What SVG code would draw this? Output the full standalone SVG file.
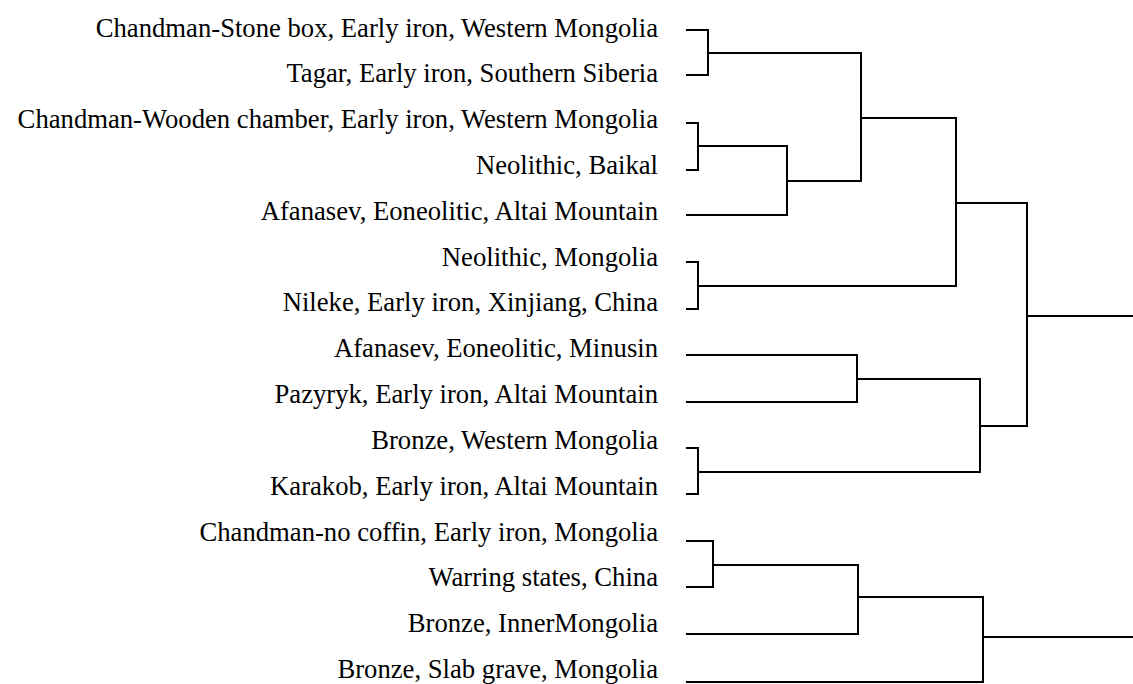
<svg xmlns="http://www.w3.org/2000/svg" width="1133" height="684" viewBox="0 0 1133 684">
<style>
.lbl{font-family:"Liberation Serif","Times New Roman",serif;font-size:26.67px;fill:#000;text-anchor:end}
.br{fill:none;stroke:#000;stroke-width:2;stroke-linecap:square;stroke-linejoin:miter}
</style>
<rect width="1133" height="684" fill="#fff"/>
<g id="leaf1"><text class="lbl" x="658" y="36.5">Chandman-Stone box, Early iron, Western Mongolia</text></g>
<g id="leaf2"><text class="lbl" x="658" y="82.3">Tagar, Early iron, Southern Siberia</text></g>
<g id="leaf3"><text class="lbl" x="658" y="128.1">Chandman-Wooden chamber, Early iron, Western Mongolia</text></g>
<g id="leaf4"><text class="lbl" x="658" y="173.9">Neolithic, Baikal</text></g>
<g id="leaf5"><text class="lbl" x="658" y="219.8">Afanasev, Eoneolitic, Altai Mountain</text></g>
<g id="leaf6"><text class="lbl" x="658" y="265.6">Neolithic, Mongolia</text></g>
<g id="leaf7"><text class="lbl" x="658" y="311.4">Nileke, Early iron, Xinjiang, China</text></g>
<g id="leaf8"><text class="lbl" x="658" y="357.2">Afanasev, Eoneolitic, Minusin</text></g>
<g id="leaf9"><text class="lbl" x="658" y="403.1">Pazyryk, Early iron, Altai Mountain</text></g>
<g id="leaf10"><text class="lbl" x="658" y="448.9">Bronze, Western Mongolia</text></g>
<g id="leaf11"><text class="lbl" x="658" y="494.7">Karakob, Early iron, Altai Mountain</text></g>
<g id="leaf12"><text class="lbl" x="658" y="540.5">Chandman-no coffin, Early iron, Mongolia</text></g>
<g id="leaf13"><text class="lbl" x="658" y="586.3">Warring states, China</text></g>
<g id="leaf14"><text class="lbl" x="658" y="632.2">Bronze, InnerMongolia</text></g>
<g id="leaf15"><text class="lbl" x="658" y="678">Bronze, Slab grave, Mongolia</text></g>
<g id="connectors" class="br">
<path class="br" d="M687,30 H708 V75 H687 M708,53 H861"/>
<path class="br" d="M687,123 H698 V170 H687 M698,146 H787 M687,215 H787 V146 M787,181 H861"/>
<path class="br" d="M861,53 V181 M861,118 H956"/>
<path class="br" d="M687,262 H698 V309 H687 M698,286 H956"/>
<path class="br" d="M956,118 V286 M956,203 H1027"/>
<path class="br" d="M687,355 H857 V402 H687 M857,379 H980"/>
<path class="br" d="M687,448 H698 V494 H687 M698,472 H980"/>
<path class="br" d="M980,379 V472 M980,426 H1027"/>
<path class="br" d="M1027,203 V426 M1027,316 H1134"/>
<path class="br" d="M687,541 H713 V587 H687 M713,565 H858"/>
<path class="br" d="M687,634 H858 V565 M858,597 H983"/>
<path class="br" d="M687,682 H983 V597 M983,637 H1134"/>
</g>
</svg>
